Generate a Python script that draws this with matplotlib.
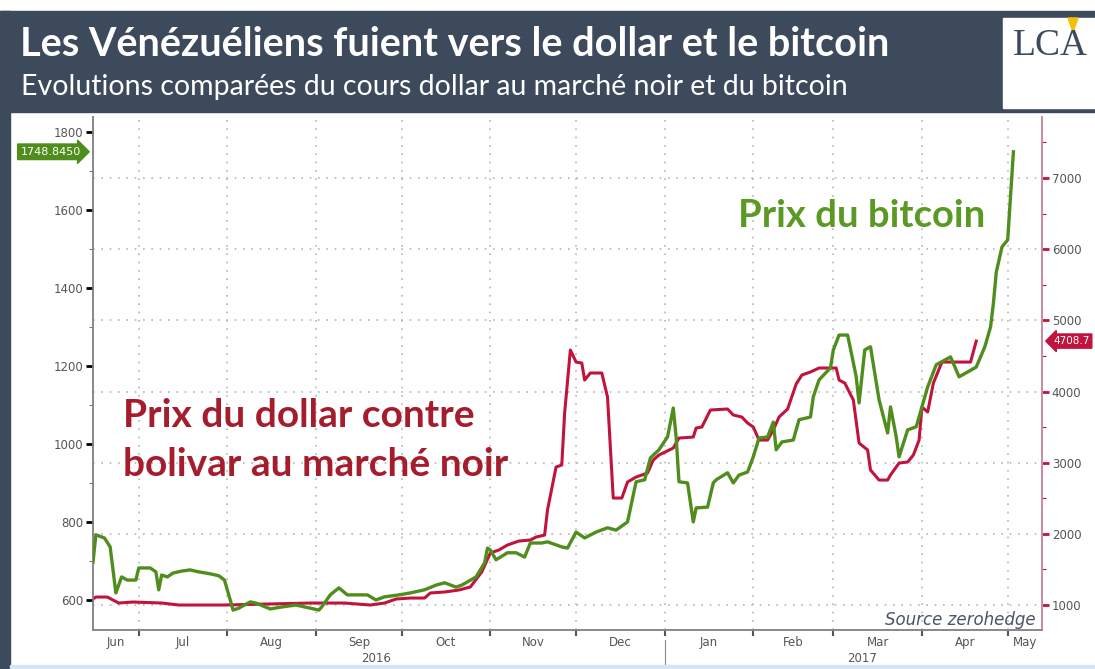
import pandas as pd
import matplotlib.pyplot as plt
import matplotlib.dates as mdates
import matplotlib.transforms as mtransforms
from matplotlib.patches import Rectangle, Polygon
from matplotlib.ticker import MultipleLocator, FixedLocator, NullFormatter

# bitcoin price (USD), left axis
btc_dates = [
    "2016-06-15", "2016-06-16", "2016-06-19", "2016-06-21", "2016-06-23", "2016-06-25",
    "2016-06-27", "2016-06-30", "2016-07-01", "2016-07-05", "2016-07-07", "2016-07-08",
    "2016-07-09", "2016-07-11", "2016-07-13", "2016-07-16", "2016-07-19", "2016-07-22",
    "2016-07-26", "2016-07-29", "2016-07-31", "2016-08-02", "2016-08-03", "2016-08-05",
    "2016-08-09", "2016-08-11", "2016-08-16", "2016-08-20", "2016-08-25", "2016-08-30",
    "2016-09-02", "2016-09-03", "2016-09-06", "2016-09-09", "2016-09-12", "2016-09-19",
    "2016-09-22", "2016-09-25", "2016-09-30", "2016-10-04", "2016-10-09", "2016-10-13",
    "2016-10-16", "2016-10-20", "2016-10-22", "2016-10-27", "2016-10-30", "2016-10-31",
    "2016-11-01", "2016-11-03", "2016-11-07", "2016-11-10", "2016-11-13", "2016-11-15",
    "2016-11-19", "2016-11-21", "2016-11-26", "2016-11-28", "2016-12-01", "2016-12-04",
    "2016-12-08", "2016-12-12", "2016-12-15", "2016-12-19", "2016-12-22", "2016-12-25",
    "2016-12-27", "2016-12-30", "2017-01-02", "2017-01-04", "2017-01-05", "2017-01-06",
    "2017-01-09", "2017-01-11", "2017-01-12", "2017-01-16", "2017-01-18", "2017-01-19",
    "2017-01-23", "2017-01-25", "2017-01-27", "2017-01-30", "2017-02-01", "2017-02-03",
    "2017-02-06", "2017-02-08", "2017-02-09", "2017-02-11", "2017-02-15", "2017-02-17",
    "2017-02-21", "2017-02-22", "2017-02-24", "2017-02-28", "2017-03-01", "2017-03-03",
    "2017-03-06", "2017-03-08", "2017-03-09", "2017-03-10", "2017-03-12", "2017-03-14",
    "2017-03-17", "2017-03-20", "2017-03-21", "2017-03-23", "2017-03-24", "2017-03-27",
    "2017-03-30", "2017-04-01", "2017-04-03", "2017-04-06", "2017-04-11", "2017-04-14",
    "2017-04-20", "2017-04-23", "2017-04-25", "2017-04-26", "2017-04-27", "2017-04-29",
    "2017-05-01", "2017-05-03",
]
btc_price = [
    697, 767, 759, 736, 618, 659,
    651, 651, 682, 682, 672, 626,
    664, 659, 669, 674, 677, 672,
    667, 662, 651, 600, 574, 579,
    595, 592, 577, 582, 587, 579,
    574, 582, 613, 631, 613, 613,
    600, 608, 613, 618, 626, 638,
    644, 633, 638, 659, 695, 733,
    728, 703, 721, 721, 710, 746,
    746, 749, 736, 733, 774, 759,
    774, 785, 779, 800, 903, 908,
    964, 985, 1018, 1092, 1018, 903,
    900, 800, 836, 838, 900, 908,
    926, 900, 920, 928, 967, 1015,
    1018, 1056, 985, 1005, 1010, 1062,
    1069, 1121, 1164, 1195, 1241, 1279,
    1279, 1208, 1172, 1105, 1241, 1249,
    1113, 1028, 1095, 1018, 967, 1036,
    1044, 1095, 1146, 1203, 1223, 1172,
    1197, 1249, 1300, 1360, 1440, 1505,
    1523, 1748.845,
]

# black market dollar price in bolivars, right axis
usd_dates = [
    "2016-06-15", "2016-06-16", "2016-06-20", "2016-06-24", "2016-06-29", "2016-07-09",
    "2016-07-15", "2016-07-31", "2016-08-30", "2016-09-11", "2016-09-20", "2016-09-25",
    "2016-09-29", "2016-10-04", "2016-10-09", "2016-10-11", "2016-10-16", "2016-10-21",
    "2016-10-25", "2016-10-29", "2016-11-01", "2016-11-04", "2016-11-07", "2016-11-11",
    "2016-11-15", "2016-11-17", "2016-11-20", "2016-11-21", "2016-11-24", "2016-11-26",
    "2016-11-27", "2016-11-29", "2016-12-01", "2016-12-03", "2016-12-04", "2016-12-06",
    "2016-12-10", "2016-12-12", "2016-12-14", "2016-12-17", "2016-12-19", "2016-12-22",
    "2016-12-26", "2016-12-28", "2016-12-30", "2017-01-04", "2017-01-06", "2017-01-11",
    "2017-01-12", "2017-01-14", "2017-01-17", "2017-01-23", "2017-01-25", "2017-01-28",
    "2017-01-30", "2017-02-01", "2017-02-03", "2017-02-06", "2017-02-08", "2017-02-10",
    "2017-02-13", "2017-02-16", "2017-02-18", "2017-02-21", "2017-02-24", "2017-03-02",
    "2017-03-03", "2017-03-05", "2017-03-08", "2017-03-10", "2017-03-13", "2017-03-14",
    "2017-03-17", "2017-03-20", "2017-03-21", "2017-03-24", "2017-03-27", "2017-03-29",
    "2017-03-31", "2017-04-01", "2017-04-03", "2017-04-05", "2017-04-08", "2017-04-18",
    "2017-04-20",
]
usd_bolivar = [
    1084, 1112, 1112, 1028, 1042, 1028,
    1000, 1000, 1028, 1028, 1000, 1028,
    1084, 1098, 1098, 1169, 1183, 1211,
    1253, 1464, 1731, 1773, 1843, 1899,
    1913, 1955, 1983, 2335, 2939, 2967,
    3698, 4583, 4414, 4400, 4161, 4260,
    4260, 3922, 2503, 2503, 2728, 2798,
    2855, 3037, 3108, 3206, 3346, 3360,
    3487, 3501, 3740, 3754, 3670, 3641,
    3557, 3501, 3318, 3318, 3459, 3641,
    3754, 4105, 4232, 4274, 4330, 4330,
    4161, 4119, 3880, 3276, 3178, 2897,
    2756, 2756, 2827, 2995, 3009, 3108,
    3318, 3782, 3712, 4119, 4414, 4414,
    4708.7,
]

month_names = ["Jun", "Jul", "Aug", "Sep", "Oct", "Nov", "Dec",
               "Jan", "Feb", "Mar", "Apr", "May"]
btc_last = "1748.8450"
usd_last = "4708.7"

GREEN = "#4f8d1c"
RED = "#c0143c"
DARK = "#3d4a5b"
GRID = "#b5b5b5"
TICK_TXT = "#555555"

fig = plt.figure(figsize=(10.95, 6.69), dpi=100)
fig.patch.set_facecolor("white")

# header and frame
fig.patches.append(Rectangle((0, 1 - 112 / 669), 1, (112 - 11) / 669,
                             transform=fig.transFigure, color=DARK, zorder=0))
fig.patches.append(Rectangle((0, 0), 10 / 1095, 1 - 11 / 669,
                             transform=fig.transFigure, color=DARK, zorder=0))
fig.patches.append(Rectangle((10 / 1095, 0), 1, 4 / 669,
                             transform=fig.transFigure, color="#d6e5f2", zorder=0))
fig.patches.append(Rectangle((1003 / 1095, 1 - 108 / 669), 92 / 1095, 90 / 669,
                             transform=fig.transFigure, color="white", zorder=1))
fig.patches.append(Polygon([[1068 / 1095, 1 - 18 / 669], [1078 / 1095, 1 - 18 / 669],
                            [1073 / 1095, 1 - 32 / 669]],
                           transform=fig.transFigure, color="#f2c200", zorder=2))
fig.text(1050 / 1095, 1 - 46 / 669, "LCA", fontsize=27, family="Liberation Serif",
         color=DARK, ha="center", va="center", zorder=3)

fig.text(20 / 1095, 1 - 45 / 669, "Les Vénézuéliens fuient vers le dollar et le bitcoin",
         fontsize=28.5, fontweight="bold", family="Lato", color="white",
         ha="left", va="center")
fig.text(21 / 1095, 1 - 87 / 669,
         "Evolutions comparées du cours dollar au marché noir et du bitcoin",
         fontsize=20.5, family="Lato", color="white", ha="left", va="center")

# axes: host carries the dollar/bolivar series (right scale) and the grid
ax = fig.add_axes([93 / 1095, 1 - 630 / 669, (1042 - 93) / 1095, (630 - 117) / 669])
ax_g = ax.twinx()

x_start = pd.Timestamp("2016-06-15")
x_end = pd.Timestamp("2017-05-13")

ax.plot(pd.to_datetime(usd_dates), usd_bolivar, color=RED, lw=2.2, zorder=3)
ax_g.plot(pd.to_datetime(btc_dates), btc_price, color=GREEN, lw=2.4, zorder=3)

ax.set_xlim(x_start, x_end)
ax.set_ylim(649, 7857)
ax_g.set_ylim(523, 1838)

ax.yaxis.tick_right()
ax.yaxis.set_label_position("right")
ax_g.yaxis.tick_left()
ax_g.yaxis.set_label_position("left")

ax.yaxis.set_major_locator(MultipleLocator(1000))
ax.yaxis.set_minor_locator(MultipleLocator(500))
ax_g.yaxis.set_major_locator(MultipleLocator(200))
ax_g.yaxis.set_minor_locator(MultipleLocator(100))

ax.tick_params(axis="y", which="major", colors=RED, length=5, width=2,
               labelcolor=TICK_TXT, labelsize=8.5, pad=2)
ax.tick_params(axis="y", which="minor", colors=RED, length=3, width=0.8)
ax_g.tick_params(axis="y", which="major", colors="black", length=5, width=2,
                 labelcolor=TICK_TXT, labelsize=8.5, pad=2)
ax_g.tick_params(axis="y", which="minor", colors="#777777", length=3, width=0.8)

# month ticks at month starts, labels centred in the visible part of each month
starts = pd.date_range("2016-06-01", "2017-06-01", freq="MS")
mids = []
for lo, hi in zip(starts[:-1], starts[1:]):
    lo = max(lo, x_start)
    hi = min(hi, x_end)
    mids.append(mdates.date2num(lo + (hi - lo) / 2))
ax.xaxis.set_major_locator(FixedLocator(mdates.date2num(starts[1:-1])))
ax.xaxis.set_major_formatter(NullFormatter())
ax.xaxis.set_minor_locator(FixedLocator(mids))
ax.xaxis.set_minor_formatter(plt.FixedFormatter(month_names))
ax.tick_params(axis="x", which="major", length=4, width=1.5, color="#555555")
ax.tick_params(axis="x", which="minor", length=0, labelsize=8.5,
               labelcolor=TICK_TXT, pad=4)

trans = mtransforms.blended_transform_factory(ax.transData, ax.transAxes)
ax.text(mdates.date2num(pd.Timestamp("2016-09-22")), -0.042, "2016", transform=trans,
        ha="center", va="top", fontsize=8.5, color=TICK_TXT)
ax.text(mdates.date2num(pd.Timestamp("2017-03-11")), -0.042, "2017", transform=trans,
        ha="center", va="top", fontsize=8.5, color=TICK_TXT)
jan1 = mdates.date2num(pd.Timestamp("2017-01-01"))
ax.plot([jan1, jan1], [-0.02, -0.08], transform=trans, color="#888888", lw=0.8,
        clip_on=False)

ax.grid(True, axis="both", which="major", color=GRID, linestyle=(0, (1, 4)), lw=1.2)
ax.set_axisbelow(True)

for a in (ax, ax_g):
    a.spines["top"].set_visible(False)
    a.spines["left"].set_color("#888888")
    a.spines["bottom"].set_color("#888888")
    a.spines["right"].set_color("#c98aa0")
    a.spines["left"].set_linewidth(1.2)
    a.spines["bottom"].set_linewidth(1.2)
    a.spines["right"].set_linewidth(1.2)

# last-value tags
tg = mtransforms.blended_transform_factory(ax_g.transAxes, ax_g.transData)
ax_g.text(-0.013, btc_price[-1], btc_last, transform=tg, ha="right", va="center",
          fontsize=8, color="white", clip_on=False, zorder=5,
          bbox=dict(boxstyle="rarrow,pad=0.25", fc=GREEN, ec=GREEN))
tr = mtransforms.blended_transform_factory(ax.transAxes, ax.transData)
ax.text(1.012, usd_bolivar[-1], usd_last, transform=tr, ha="left", va="center",
        fontsize=7.5, color="white", clip_on=False, zorder=5,
        bbox=dict(boxstyle="larrow,pad=0.2", fc=RED, ec=RED))

# series labels
ax.text(0.81, 0.807, "Prix du bitcoin", transform=ax.transAxes, ha="center",
        va="center", fontsize=27.5, fontweight="bold", family="Lato", color="#5a9a22",
        zorder=6)
ax.text(0.0316, 0.419, "Prix du dollar contre", transform=ax.transAxes, ha="left",
        va="center", fontsize=28, fontweight="bold", family="Lato", color="#a51d2d",
        zorder=6)
ax.text(0.0316, 0.322, "bolivar au marché noir", transform=ax.transAxes, ha="left",
        va="center", fontsize=28, fontweight="bold", family="Lato", color="#a51d2d",
        zorder=6)
ax.text(0.993, 0.02, "Source zerohedge", transform=ax.transAxes, ha="right",
        va="center", fontsize=12, style="italic", color="#4a5468", zorder=6)

fig.savefig("out.png", dpi=100)
